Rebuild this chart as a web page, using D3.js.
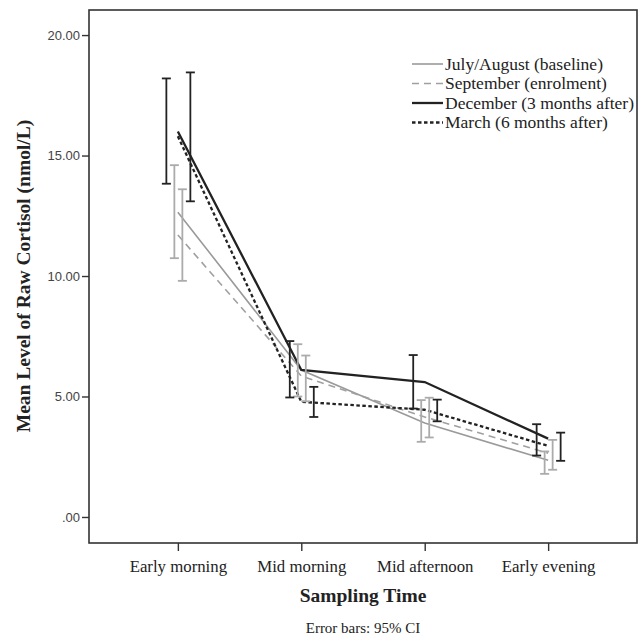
<!DOCTYPE html>
<html>
<head>
<meta charset="utf-8">
<script src="https://cdn.jsdelivr.net/npm/d3@7"></script>
<style>
html,body{margin:0;padding:0;background:#fff;}
svg{display:block;}
</style>
</head>
<body>
<svg id="chart" width="638" height="637"></svg>
<script>
// ---- data ----
const categories = ["Early morning", "Mid morning", "Mid afternoon", "Early evening"];
const seriesNames = ["July/August (baseline)", "September (enrolment)", "December (3 months after)", "March (6 months after)"];
const julyMean = [12.65, 6.1, 3.9, 2.35];
const julyLow  = [10.74, 5.0, 3.12, 1.79];
const julyHigh = [14.6, 7.17, 4.85, 2.72];
const sepMean  = [11.7, 5.85, 4.15, 2.65];
const sepLow   = [9.8, 4.8, 3.3, 1.96];
const sepHigh  = [13.6, 6.7, 4.95, 3.2];
const decMean  = [16.0, 6.1, 5.6, 3.25];
const decLow   = [13.83, 4.96, 4.5, 2.55];
const decHigh  = [18.2, 7.3, 6.72, 3.85];
const marMean  = [15.8, 4.78, 4.45, 2.95];
const marLow   = [13.1, 4.15, 3.97, 2.33];
const marHigh  = [18.45, 5.4, 4.87, 3.5];
const yTicks = [0, 5, 10, 15, 20];

const series = [
  {name: seriesNames[0], mean: julyMean, low: julyLow, high: julyHigh, color: "#9a9a9a", barColor: "#ababab", width: 1.6, dash: null, slot: 1},
  {name: seriesNames[1], mean: sepMean, low: sepLow, high: sepHigh, color: "#a0a0a0", barColor: "#ababab", width: 1.6, dash: "7,5", slot: 2},
  {name: seriesNames[2], mean: decMean, low: decLow, high: decHigh, color: "#222", barColor: "#222", width: 2.3, dash: null, slot: 0},
  {name: seriesNames[3], mean: marMean, low: marLow, high: marHigh, color: "#222", barColor: "#222", width: 2.3, dash: "3.5,2.5", slot: 3}
];

const svg = d3.select("#chart");
const pLeft = 89, pRight = 637, pTop = 10, pBottom = 543;
const serif = "Liberation Serif, Times New Roman, serif";

const x = d3.scalePoint().domain(categories).range([pLeft, pRight]).padding(0.72);
const y = d3.scaleLinear().domain([-1.08, 21.04]).range([pBottom, pTop]);
const dodge = d3.scalePoint().domain([0, 1, 2, 3]).range([-11.5, 12.5]);

// frame
svg.append("rect").attr("x", pLeft).attr("y", pTop).attr("width", pRight - pLeft).attr("height", pBottom - pTop)
  .attr("fill", "none").attr("stroke", "#333").attr("stroke-width", 1.6);

// y axis
const yAxis = d3.axisLeft(y).tickValues(yTicks).tickSize(7).tickPadding(2)
  .tickFormat(d => d === 0 ? ".00" : d3.format(".2f")(d));
const gy = svg.append("g").attr("transform", `translate(${pLeft},0)`).call(yAxis);
gy.select(".domain").remove();
gy.selectAll("line").attr("stroke", "#333").attr("stroke-width", 1.4);
gy.selectAll("text").attr("font-family", "Liberation Sans, Arial, sans-serif").attr("font-size", 13).attr("fill", "#444");

// x axis
const xAxis = d3.axisBottom(x).tickSize(8).tickPadding(9);
const gx = svg.append("g").attr("transform", `translate(0,${pBottom})`).call(xAxis);
gx.select(".domain").remove();
gx.selectAll("line").attr("stroke", "#333").attr("stroke-width", 1.4);
gx.selectAll("text").attr("font-family", serif).attr("font-size", 16.8).attr("fill", "#222");

// lines
const line = d3.line().x((d, i) => x(categories[i])).y(d => y(d));
series.forEach(s => {
  svg.append("path").datum(s.mean).attr("d", line)
    .attr("fill", "none").attr("stroke", s.color).attr("stroke-width", s.width)
    .attr("stroke-dasharray", s.dash);
});

// error bars
series.forEach(s => {
  const g = svg.append("g").attr("stroke", s.barColor).attr("stroke-width", 1.8);
  categories.forEach((c, i) => {
    const cx = x(c) + dodge(s.slot);
    g.append("line").attr("x1", cx).attr("x2", cx).attr("y1", y(s.low[i])).attr("y2", y(s.high[i]));
    g.append("line").attr("x1", cx - 4.5).attr("x2", cx + 4.5).attr("y1", y(s.low[i])).attr("y2", y(s.low[i]));
    g.append("line").attr("x1", cx - 4.5).attr("x2", cx + 4.5).attr("y1", y(s.high[i])).attr("y2", y(s.high[i]));
  });
});

// legend
const lg = svg.append("g").attr("transform", "translate(412,64)");
series.forEach((s, i) => {
  const row = lg.append("g").attr("transform", `translate(0,${i * 19.5})`);
  row.append("line").attr("x1", 0).attr("x2", 31).attr("y1", 0).attr("y2", 0)
    .attr("stroke", s.color).attr("stroke-width", s.width).attr("stroke-dasharray", s.dash);
  row.append("text").attr("x", 33).attr("y", 5.5).text(s.name)
    .attr("font-family", serif).attr("font-size", 17.5).attr("fill", "#222");
});

// titles
svg.append("text").attr("transform", `translate(30,${(y(0) + y(20)) / 2}) rotate(-90)`)
  .attr("text-anchor", "middle").attr("font-family", serif)
  .attr("font-weight", "bold").attr("font-size", 19.5).attr("fill", "#222")
  .text("Mean Level of Raw Cortisol (nmol/L)");
svg.append("text").attr("x", (pLeft + pRight) / 2).attr("y", 602).attr("text-anchor", "middle")
  .attr("font-family", serif).attr("font-weight", "bold")
  .attr("font-size", 19.5).attr("fill", "#222").text("Sampling Time");
svg.append("text").attr("x", (pLeft + pRight) / 2).attr("y", 633).attr("text-anchor", "middle")
  .attr("font-family", serif)
  .attr("font-size", 15).attr("fill", "#222").text("Error bars: 95% CI");
</script>
</body>
</html>
